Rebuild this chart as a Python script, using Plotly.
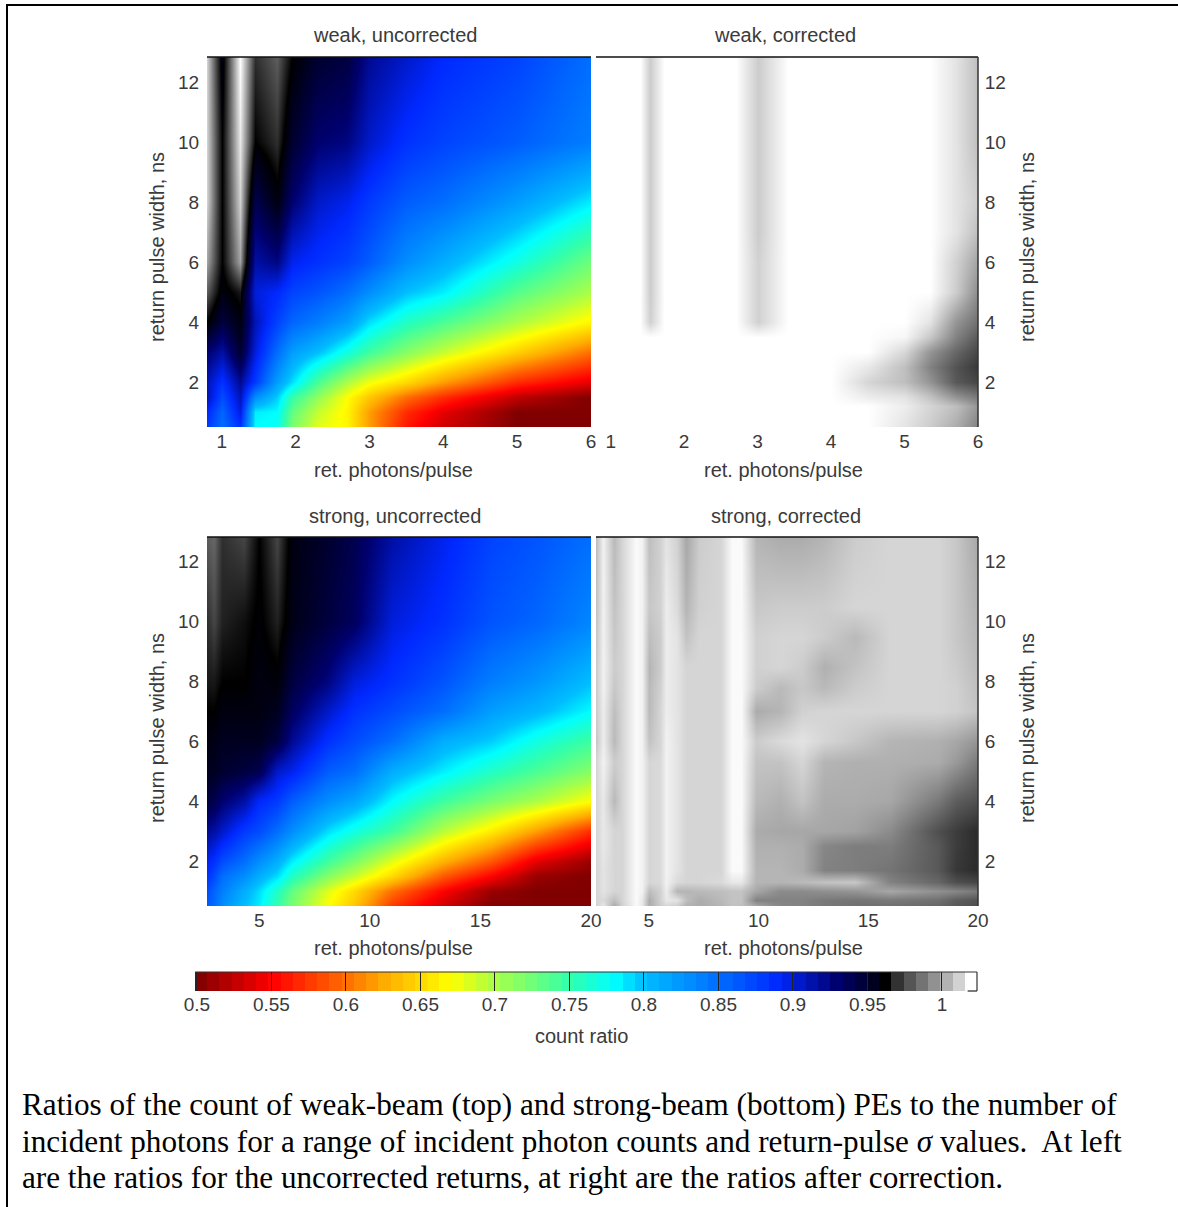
import plotly.graph_objects as go

# colour map: count ratio -> colour
CB_VALUES = [0.5, 0.55, 0.6, 0.625, 0.67, 0.7, 0.75, 0.78, 0.8, 0.85, 0.89, 0.93, 0.965, 1.02]
CB_COLORS = ["rgb(128,0,0)", "rgb(255,0,0)", "rgb(255,110,0)", "rgb(255,170,0)", "rgb(255,255,0)",
             "rgb(170,255,70)", "rgb(50,255,170)", "rgb(0,255,255)", "rgb(0,190,255)", "rgb(0,110,255)",
             "rgb(0,40,255)", "rgb(0,0,110)", "rgb(0,0,0)", "rgb(255,255,255)"]
# stepped colour bar: the 64 levels it shows, and its own grey steps
BAR_LEVELS = [.5028, .5110, .5192, .5274, .5356, .5438, .5520, .5602, .5684, .5766, .5848, .5930, .6012, .6094,
              .6176, .6258, .6340, .6422, .6504, .6586, .6668, .6750, .6832, .6914, .6996, .7078, .7160, .7242,
              .7324, .7406, .7488, .7570, .7652, .7734, .7816, .7898, .7980, .8062, .8144, .8226, .8308, .8390,
              .8472, .8554, .8636, .8718, .8800, .8882, .8964, .9046, .9128, .9210, .9292, .9374, .9456, .9538,
              .9620, .9702, .9784, .9866, .9948, 1.0030, 1.0112, 1.0194]
BAR_EDGES_LOW = 0.4987
BAR_EDGES_HIGH = 1.0235
BAR_VALUES = [0.5, 0.55, 0.6, 0.625, 0.67, 0.7, 0.75, 0.78, 0.8, 0.85, 0.89, 0.93, 0.963, 0.9702, 0.9784, 0.9866, 0.9948, 1.003, 1.0112, 1.0194]
BAR_COLORS = CB_COLORS[:12] + ["rgb(0,0,0)", "rgb(50,50,50)", "rgb(85,85,85)", "rgb(115,115,115)",
                               "rgb(145,145,145)", "rgb(178,178,178)", "rgb(210,210,210)", "rgb(255,255,255)"]
CB_TICKS = [0.5, 0.55, 0.6, 0.65, 0.7, 0.75, 0.8, 0.85, 0.9, 0.95, 1.0]
CB_LABELS = ["0.5", "0.55", "0.6", "0.65", "0.7", "0.75", "0.8", "0.85", "0.9", "0.95", "1"]

# weak, uncorrected
WU_X = [0.8, 1.0, 1.25, 1.45, 1.75, 1.95, 2.3, 2.7, 3, 3.5, 4, 5, 6]
WU_Y = [12.83, 10, 8, 6, 5, 4, 3, 2, 1.5, 1, 0.5]
WU_Z = [
    [1.01, .96, 1.02, .975, .985, .965, .95, .945, .92, .905, .89, .875, .85],
    [1.01, .965, 1.015, .965, .975, .95, .93, .925, .905, .885, .875, .86, .84],
    [1.01, .965, 1.01, .94, .96, .93, .905, .895, .88, .86, .85, .82, .785],
    [1.0, .965, 1.0, .915, .925, .895, .885, .875, .86, .83, .81, .77, .725],
    [.985, .96, .97, .90, .89, .875, .865, .85, .83, .80, .785, .735, .70],
    [.965, .945, .96, .91, .875, .855, .84, .82, .79, .76, .74, .70, .665],
    [.93, .915, .95, .90, .85, .82, .80, .77, .745, .715, .69, .645, .60],
    [.91, .885, .92, .88, .82, .79, .74, .70, .675, .65, .62, .57, .54],
    [.91, .87, .91, .83, .795, .75, .71, .67, .64, .60, .57, .525, .50],
    [.89, .855, .90, .785, .78, .73, .69, .665, .62, .57, .54, .50, .50],
    [.88, .85, .885, .78, .775, .72, .68, .665, .62, .56, .53, .50, .50],
]

# weak, corrected
WC_X = [0.8, 1.4, 1.53, 1.73, 2.7, 3.0, 3.42, 4, 4.5, 5.0, 5.35, 5.7, 6]
WC_Y = [12.83, 10, 8, 7, 6, 5, 4, 3.5, 3, 2.5, 2, 1.5, 1.2, 0.5]
WC_Z = [
    [1.02, 1.02, 1.009, 1.02, 1.02, 1.009, 1.02, 1.02, 1.02, 1.02, 1.02, 1.014, 1.006],
    [1.02, 1.02, 1.009, 1.02, 1.02, 1.009, 1.02, 1.02, 1.02, 1.02, 1.02, 1.014, 1.006],
    [1.02, 1.02, 1.009, 1.02, 1.02, 1.009, 1.02, 1.02, 1.02, 1.02, 1.02, 1.014, 1.009],
    [1.02, 1.02, 1.009, 1.02, 1.02, 1.009, 1.02, 1.02, 1.02, 1.02, 1.02, 1.014, 1.006],
    [1.02, 1.02, 1.009, 1.02, 1.02, 1.01, 1.02, 1.02, 1.02, 1.02, 1.02, 1.01, 1.0],
    [1.02, 1.02, 1.009, 1.02, 1.02, 1.01, 1.02, 1.02, 1.02, 1.02, 1.02, 1.009, .995],
    [1.02, 1.02, 1.01, 1.02, 1.02, 1.01, 1.02, 1.02, 1.02, 1.02, 1.014, .997, .989],
    [1.02, 1.02, 1.02, 1.02, 1.02, 1.02, 1.02, 1.02, 1.02, 1.018, 1.008, .993, .984],
    [1.02, 1.02, 1.02, 1.02, 1.02, 1.02, 1.02, 1.02, 1.02, 1.011, .997, .987, .98],
    [1.02, 1.02, 1.02, 1.02, 1.02, 1.02, 1.02, 1.02, 1.015, 1.006, .993, .983, .977],
    [1.02, 1.02, 1.02, 1.02, 1.02, 1.02, 1.02, 1.02, 1.011, 1.006, .997, .984, .98],
    [1.02, 1.02, 1.02, 1.02, 1.02, 1.02, 1.02, 1.02, 1.016, 1.014, 1.007, .997, .991],
    [1.02, 1.02, 1.02, 1.02, 1.02, 1.02, 1.02, 1.02, 1.02, 1.016, 1.011, 1.006, .997],
    [1.02, 1.02, 1.02, 1.02, 1.02, 1.02, 1.02, 1.02, 1.02, 1.014, 1.009, 1.002, .993],
]

# strong, uncorrected
SU_X = [2.64, 2.95, 3.3, 4.3, 5, 5.8, 6.5, 8.1, 9.3, 11, 13.3, 15.5, 17.5, 20]
SU_Y = [12.83, 10, 8, 7, 6, 5, 4, 3, 2, 1.5, 1, 0.5]
SU_Z = [
    [.985, .987, .975, .98, .965, .98, .96, .95, .94, .915, .895, .875, .865, .85],
    [.975, .98, .972, .968, .963, .972, .958, .945, .935, .90, .885, .865, .855, .835],
    [.97, .97, .965, .965, .96, .962, .945, .925, .90, .885, .865, .84, .825, .80],
    [.965, .965, .96, .96, .96, .955, .935, .905, .885, .87, .85, .82, .805, .78],
    [.96, .958, .955, .955, .955, .945, .92, .885, .87, .85, .81, .795, .77, .745],
    [.955, .955, .95, .945, .94, .905, .895, .86, .85, .81, .785, .76, .74, .715],
    [.945, .94, .93, .915, .89, .88, .86, .83, .815, .78, .745, .72, .70, .67],
    [.92, .915, .905, .88, .87, .85, .83, .79, .77, .745, .695, .66, .62, .57],
    [.895, .885, .87, .85, .83, .81, .785, .745, .72, .68, .63, .59, .54, .51],
    [.885, .87, .85, .83, .81, .79, .76, .715, .69, .65, .59, .55, .51, .50],
    [.87, .855, .84, .81, .79, .76, .73, .68, .65, .60, .55, .51, .50, .50],
    [.86, .85, .83, .80, .785, .75, .72, .67, .64, .575, .53, .50, .50, .50],
]

# strong, corrected
SC_X = [2.6, 2.93, 3.4, 3.8, 4.4, 4.7, 5, 5.5, 5.8, 6.3, 6.7, 7.3, 8.3, 8.8, 9.2, 9.9, 11, 12, 13, 14.4, 16, 18.2, 19, 20]
SC_Y = [12.83, 10.5, 9.5, 8.5, 7.8, 7, 6, 5.3, 4, 3, 2.5, 1.7, 1.3, 1, 0.7, 0.5]
SC_Z = [
    [1.006, 1.017, 1.005, 1.011, 1.019, 1.017, 1.006, 1.010, 1.014, 1.010, 1.001, 1.009, 1.011, 1.019, 1.019, 1.004, 1.002, 1.002, 1.004, 1.009, 1.011, 1.011, 1.008, 1.001],
    [1.007, 1.017, 1.007, 1.011, 1.019, 1.017, 1.008, 1.010, 1.016, 1.012, 1.004, 1.010, 1.011, 1.019, 1.019, 1.008, 1.009, 1.009, 1.009, 1.011, 1.011, 1.011, 1.008, 1.003],
    [1.008, 1.017, 1.008, 1.011, 1.019, 1.017, 1.006, 1.009, 1.016, 1.014, 1.007, 1.011, 1.011, 1.019, 1.019, 1.010, 1.011, 1.011, 1.009, 1.005, 1.011, 1.011, 1.008, 1.004],
    [1.009, 1.017, 1.009, 1.011, 1.019, 1.017, 1.004, 1.009, 1.016, 1.014, 1.011, 1.011, 1.011, 1.019, 1.019, 1.010, 1.011, 1.009, 1.003, 1.007, 1.011, 1.011, 1.009, 1.005],
    [1.009, 1.017, 1.008, 1.011, 1.019, 1.017, 1.005, 1.010, 1.016, 1.014, 1.011, 1.011, 1.011, 1.019, 1.019, 1.009, 1.005, 1.008, 1.005, 1.009, 1.011, 1.011, 1.010, 1.006],
    [1.009, 1.016, 1.006, 1.011, 1.019, 1.017, 1.005, 1.011, 1.016, 1.014, 1.011, 1.011, 1.011, 1.019, 1.019, 1.002, 1.004, 1.010, 1.011, 1.011, 1.011, 1.011, 1.010, 1.007],
    [1.008, 1.016, 1.005, 1.011, 1.019, 1.017, 1.007, 1.011, 1.017, 1.014, 1.011, 1.011, 1.011, 1.019, 1.019, 1.009, 1.012, 1.014, 1.011, 1.008, 1.004, 1.003, 1.001, .997],
    [1.011, 1.017, 1.009, 1.011, 1.019, 1.017, 1.011, 1.012, 1.017, 1.014, 1.011, 1.011, 1.011, 1.019, 1.019, 1.007, 1.007, 1.011, 1.004, 1.003, 1.003, 1.002, .998, .991],
    [1.011, 1.015, 1.005, 1.011, 1.019, 1.017, 1.011, 1.012, 1.017, 1.014, 1.011, 1.011, 1.011, 1.019, 1.019, 1.005, 1.003, 1.007, 1.002, 1.002, 1.001, .991, .985, .982],
    [1.011, 1.015, 1.011, 1.011, 1.019, 1.017, 1.011, 1.012, 1.017, 1.014, 1.011, 1.011, 1.011, 1.019, 1.019, 1.002, 1.001, 1.001, 1.001, 1.0, .995, .982, .978, .974],
    [1.011, 1.015, 1.011, 1.011, 1.019, 1.017, 1.011, 1.012, 1.017, 1.014, 1.011, 1.011, 1.011, 1.019, 1.019, 1.003, 1.003, 1.002, .994, .992, .992, .984, .978, .974],
    [1.011, 1.014, 1.011, 1.011, 1.019, 1.017, 1.011, 1.012, 1.017, 1.014, 1.011, 1.011, 1.011, 1.019, 1.019, 1.004, 1.004, 1.002, .993, .992, .990, .984, .977, .974],
    [1.011, 1.014, 1.011, 1.011, 1.019, 1.017, 1.011, 1.012, 1.017, 1.012, 1.011, 1.011, 1.012, 1.015, 1.015, 1.004, 1.004, 1.005, 1.007, 1.008, .993, .987, .982, .980],
    [1.011, 1.014, 1.011, 1.011, 1.019, 1.017, 1.006, 1.010, 1.016, 1.004, 1.004, 1.005, 1.006, 1.007, 1.007, 1.001, .995, .995, .996, .997, 1.001, .996, .994, .991],
    [1.011, 1.012, 1.006, 1.011, 1.019, 1.015, 1.002, 1.010, 1.015, 1.014, 1.006, 1.002, 1.005, 1.007, 1.007, .993, .993, .993, .991, .990, .991, .989, .985, .983],
    [1.010, 1.015, 1.001, 1.010, 1.019, 1.015, 1.002, 1.009, 1.011, 1.009, 1.003, 1.002, 1.004, 1.007, 1.006, 1.001, .994, .993, .991, .989, .989, .987, .984, .982],
]

TITLES = ["weak, uncorrected", "weak, corrected", "strong, uncorrected", "strong, corrected"]
X_TITLE = "ret. photons/pulse"
Y_TITLE = "return pulse width, ns"
COLORBAR_TITLE = "count ratio"
CAPTION = [
    "Ratios of the count of weak-beam (top) and strong-beam (bottom) PEs to the number of",
    "incident photons for a range of incident photon counts and return-pulse <i>σ</i> values.  At left",
    "are the ratios for the uncorrected returns, at right are the ratios after correction.",
]

W, H = 1178, 1207
TXT = "#3a3a3a"
FONT = "Liberation Sans"
TICK_SIZE, TITLE_SIZE = 19, 20
CMIN, CMAX = BAR_EDGES_LOW, BAR_EDGES_HIGH


def build_scale(values, colors):
    stops = [[(v - CMIN) / (CMAX - CMIN), c] for v, c in zip(values, colors)]
    return [[0, colors[0]]] + stops + [[1, colors[-1]]]


def label(text, x, y, size=TITLE_SIZE, angle=0):
    return dict(text=text, xref="paper", yref="paper", x=x / W, y=1 - y / H, showarrow=False,
                xanchor="center", yanchor="middle", textangle=angle,
                font=dict(family=FONT, size=size, color=TXT))


# panel: data, pixel box, x range, x ticks, y label side, title x, x-title x, x-title y, y-title x, y-title y, title y
panels = [
    (WU_X, WU_Y, WU_Z, (207, 591), (57, 427), (0.8, 6.0), [1, 2, 3, 4, 5, 6], "left", 395, 393.5, 470, 157, 247, 35),
    (WC_X, WC_Y, WC_Z, (596, 978), (57, 427), (0.8, 6.0), [1, 2, 3, 4, 5, 6], "right", 785, 783.5, 470, 1027, 247, 35),
    (SU_X, SU_Y, SU_Z, (207, 591), (537, 906), (2.64, 20.0), [5, 10, 15, 20], "left", 394.5, 393.5, 948, 157, 728, 516),
    (SC_X, SC_Y, SC_Z, (596, 978), (537, 906), (2.6, 20.0), [5, 10, 15, 20], "right", 786, 783.5, 948, 1027, 728, 516),
]

fig = go.Figure()
layout = {}
annotations = []
shapes = []
for i, (xs, ys, zs, xpx, ypx, xr, xt, side, tx, xtx, xty, ytx, yty, ty) in enumerate(panels):
    n = "" if i == 0 else str(i + 1)
    fig.add_trace(go.Heatmap(x=xs, y=ys[::-1], z=zs[::-1], zsmooth="best", coloraxis="coloraxis",
                             xaxis="x" + n, yaxis="y" + n, hoverinfo="skip"))
    layout["xaxis" + n] = dict(
        domain=[xpx[0] / W, xpx[1] / W], range=list(xr), anchor="y" + n, tickvals=xt,
        ticks="outside", ticklen=1, ticklabelstandoff=-4, tickcolor="rgba(0,0,0,0)", showgrid=False,
        zeroline=False, showline=False, tickfont=dict(family=FONT, size=TICK_SIZE, color=TXT),
    )
    layout["yaxis" + n] = dict(
        domain=[1 - ypx[1] / H, 1 - ypx[0] / H], range=[0.5, 12.83], anchor="x" + n, side=side,
        tickvals=[2, 4, 6, 8, 10, 12], ticks="outside", ticklen=3 if side == "left" else 2,
        tickcolor="rgba(0,0,0,0)", showgrid=False, zeroline=False, showline=False,
        tickfont=dict(family=FONT, size=TICK_SIZE, color=TXT),
    )
    annotations.append(label(TITLES[i], tx, ty))
    annotations.append(label(X_TITLE, xtx, xty))
    annotations.append(label(Y_TITLE, ytx, yty, angle=-90))
    shapes.append(dict(type="line", xref="x%s domain" % n, yref="y%s domain" % n, x0=0, x1=1, y0=1, y1=1,
                       line=dict(color="#111111", width=1.5)))
    if side == "right":
        shapes.append(dict(type="line", xref="x%s domain" % n, yref="y%s domain" % n, x0=1, x1=1, y0=0, y1=1,
                           line=dict(color="#333333", width=1.5)))

# colour bar, drawn as its own strip of 64 cells on its own axis
fig.add_trace(go.Heatmap(x=BAR_LEVELS, y=[0], z=[BAR_LEVELS], zsmooth=False, coloraxis="coloraxis2",
                         xaxis="x5", yaxis="y5", hoverinfo="skip"))
layout["xaxis5"] = dict(
    domain=[195 / W, 977 / W], range=[CMIN, CMAX], anchor="y5", tickvals=CB_TICKS, ticktext=CB_LABELS,
    ticks="inside", ticklen=19, tickcolor="#222222", tickwidth=1, showgrid=False, zeroline=False,
    showline=False, tickfont=dict(family=FONT, size=TICK_SIZE, color=TXT),
)
layout["yaxis5"] = dict(domain=[1 - 991 / H, 1 - 972 / H], range=[-0.5, 0.5], anchor="x5", showticklabels=False,
                        ticks="", showgrid=False, zeroline=False, showline=False)
annotations.append(label(COLORBAR_TITLE, 581, 1036))
for x0, x1, y0, y1, col in [(0, 1, 1, 1, "#333333"), (1, 1, 0, 1, "#333333"), (0.988, 1, 0, 0, "#222222")]:
    shapes.append(dict(type="line", xref="x5 domain", yref="y5 domain", x0=x0, x1=x1, y0=y0, y1=y1,
                       line=dict(color=col, width=1.2)))

for line, ypos in zip(CAPTION, [1104, 1141, 1177]):
    annotations.append(dict(text=line, xref="paper", yref="paper", x=20 / W, y=1 - ypos / H,
                            xanchor="left", yanchor="middle", showarrow=False, align="left",
                            font=dict(family="Liberation Serif", size=31.2, color="#000000")))

# page frame: top and left rules only
shapes.append(dict(type="line", xref="paper", yref="paper", x0=6 / W, x1=1, y0=1 - 5 / H, y1=1 - 5 / H,
                   line=dict(color="#000000", width=2)))
shapes.append(dict(type="line", xref="paper", yref="paper", x0=7 / W, x1=7 / W, y0=0, y1=1 - 4 / H,
                   line=dict(color="#000000", width=2)))

fig.update_layout(
    width=W, height=H, margin=dict(l=0, r=0, t=0, b=0, autoexpand=False), paper_bgcolor="white",
    plot_bgcolor="white", showlegend=False, annotations=annotations, shapes=shapes,
    coloraxis=dict(cmin=CMIN, cmax=CMAX, showscale=False, colorscale=build_scale(CB_VALUES, CB_COLORS)),
    coloraxis2=dict(cmin=CMIN, cmax=CMAX, showscale=False, colorscale=build_scale(BAR_VALUES, BAR_COLORS)),
    **layout,
)
fig.write_html("out.html", config={"displayModeBar": False}, post_script="document.body.style.margin='0';")
